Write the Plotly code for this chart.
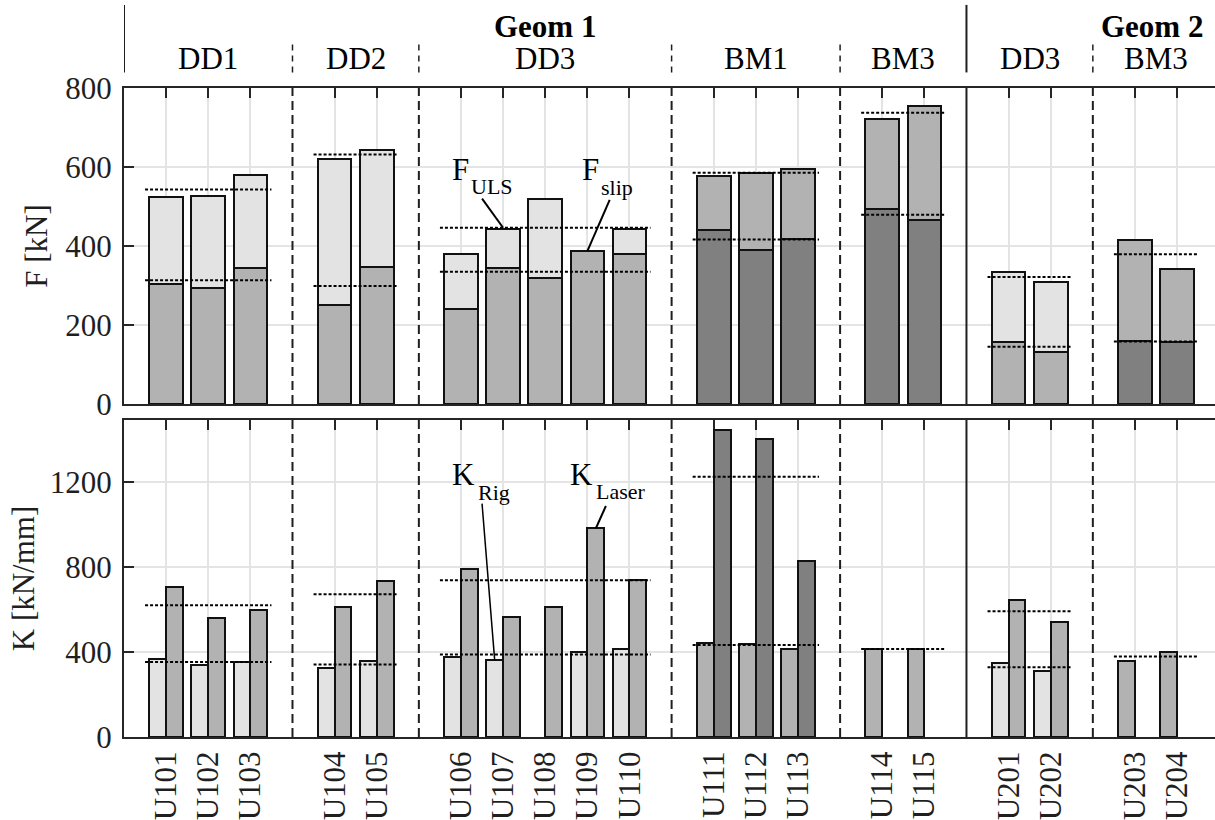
import plotly.graph_objects as go

# ---------------- data ----------------
group_names = ["DD1", "DD2", "DD3", "BM1", "BM3", "DD3", "BM3"]
group_geom = ["Geom 1", "Geom 1", "Geom 1", "Geom 1", "Geom 1", "Geom 2", "Geom 2"]
group_members = [
    ["U101", "U102", "U103"],
    ["U104", "U105"],
    ["U106", "U107", "U108", "U109", "U110"],
    ["U111", "U112", "U113"],
    ["U114", "U115"],
    ["U201", "U202"],
    ["U203", "U204"],
]
specimens = [s for g in group_members for s in g]

F_ULS = [525, 526, 579, 621, 642, 381, 442, 520, None, 442,
         576, 584, 596, 721, 754, 333, 310, 416, 342]
F_slip = [303, 293, 344, 250, 348, 241, 344, 320, 387, 381,
          441, 391, 418, 493, 465, 158, 132, 159, 157]
K_Rig = [368, 336, 352, 325, 357, 376, 360, None, 401, 412,
         443, 439, 415, 415, 412, 347, 308, 357, 401]
K_Laser = [705, 557, 596, 611, 731, 791, 563, 611, 980, 739,
           1444, 1400, 827, None, None, 643, 540, None, None]

F_ticks = [0, 200, 400, 600, 800]
K_ticks = [0, 400, 800, 1200]

# ---------------- styles ----------------
FONT = "Liberation Serif"
INK = "#1f1f1f"
C_LIGHT, C_MED, C_DARK = "#e3e3e3", "#b2b2b2", "#808080"
PAIR = {"DD": (C_LIGHT, C_MED), "BM": (C_MED, C_DARK)}
FS = 31

# positions: one empty slot between groups
pos, group_pos, seps = [], [], []
p = 1
for gi, mem in enumerate(group_members):
    gp = []
    for _ in mem:
        pos.append(p)
        gp.append(p)
        p += 1
    group_pos.append(gp)
    if gi < len(group_members) - 1:
        seps.append((p, group_geom[gi] != group_geom[gi + 1]))
        p += 1
XMAX = 25.9

spec_group = [gi for gi, mem in enumerate(group_members) for _ in mem]
col_lo = [PAIR[group_names[g][:2]][0] for g in spec_group]
col_hi = [PAIR[group_names[g][:2]][1] for g in spec_group]

fig = go.Figure()
bar_line = dict(color="#111111", width=2)

# top panel: overlaid bars (ultimate load behind, slip load in front)
fig.add_trace(go.Bar(x=pos, y=F_ULS, width=0.8, marker=dict(color=col_lo, line=bar_line),
                     xaxis="x", yaxis="y", showlegend=False, name="F_ULS"))
fig.add_trace(go.Bar(x=pos, y=F_slip, width=0.8, marker=dict(color=col_hi, line=bar_line),
                     xaxis="x", yaxis="y", showlegend=False, name="F_slip"))

# bottom panel: side by side
fig.add_trace(go.Bar(x=pos, y=K_Rig, width=0.4, offset=-0.4, marker=dict(color=col_lo, line=bar_line),
                     xaxis="x2", yaxis="y2", showlegend=False, name="K_Rig"))
fig.add_trace(go.Bar(x=pos, y=K_Laser, width=0.4, offset=0.0, marker=dict(color=col_hi, line=bar_line),
                     xaxis="x2", yaxis="y2", showlegend=False, name="K_Laser"))


def mean(vals):
    v = [x for x in vals if x is not None]
    return sum(v) / len(v) if v else None


dot = dict(color="#000000", width=2, dash="3px,2px")
for gi, gp in enumerate(group_pos):
    idx = [pos.index(q) for q in gp]
    x0, x1 = gp[0] - 0.5, gp[-1] + 0.5
    for series, xa, ya in ((F_ULS, "x", "y"), (F_slip, "x", "y"), (K_Rig, "x2", "y2"), (K_Laser, "x2", "y2")):
        m = mean([series[i] for i in idx])
        if m is None:
            continue
        fig.add_trace(go.Scatter(x=[x0, x1], y=[m, m], mode="lines", line=dot,
                                 xaxis=xa, yaxis=ya, showlegend=False, hoverinfo="skip"))

shapes = []
# separators in both panels
for sp, solid in seps:
    for xr, yr in (("x", "y domain"), ("x2", "y2 domain")):
        shapes.append(dict(type="line", xref=xr, yref=yr, x0=sp, x1=sp, y0=0, y1=1,
                           line=dict(color=INK, width=2, dash="solid" if solid else "9px,5px")))
    # header dividers
    shapes.append(dict(type="line", xref="x", yref="paper", x0=sp, x1=sp,
                       y0=1.024, y1=1.128 if solid else 1.074,
                       line=dict(color=INK, width=2 if solid else 1.5, dash="solid" if solid else "6px,5px")))
shapes.append(dict(type="line", xref="x", yref="paper", x0=0, x1=0, y0=1.024, y1=1.128,
                   line=dict(color=INK, width=2)))

# annotation leaders
i107, i109 = specimens.index("U107"), specimens.index("U109")
dd3 = [pos.index(q) for q in group_pos[2]]
shapes.append(dict(type="line", xref="x", yref="y", x0=8.5, y0=520,
                   x1=pos[i107], y1=mean([F_ULS[i] for i in dd3]), line=dict(color="#000", width=2)))
shapes.append(dict(type="line", xref="x", yref="y", x0=11.53, y0=517,
                   x1=pos[i109], y1=F_slip[i109], line=dict(color="#000", width=2)))
shapes.append(dict(type="line", xref="x2", yref="y2", x0=8.5, y0=1097,
                   x1=pos[i107] - 0.2, y1=K_Rig[i107], line=dict(color="#000", width=1.5)))
shapes.append(dict(type="line", xref="x2", yref="y2", x0=11.44, y0=1086,
                   x1=pos[i109] + 0.2, y1=K_Laser[i109], line=dict(color="#000", width=2)))

ann = []
def txt(x, y, t, size, xr="x", yr="y", bold=False):
    ann.append(dict(x=x, y=y, xref=xr, yref=yr, text=("<b>%s</b>" % t) if bold else t, showarrow=False,
                    font=dict(family=FONT, size=size, color="#000"), xanchor="center", yanchor="middle"))

txt(7.98, 594, "F", FS); txt(8.73, 550, "ULS", 22)
txt(11.08, 594, "F", FS); txt(11.71, 548, "slip", 22)
txt(8.07, 1235, "K", FS, "x2", "y2"); txt(8.79, 1149, "Rig", 22, "x2", "y2")
txt(10.85, 1235, "K", FS, "x2", "y2"); txt(11.8, 1153, "Laser", 22, "x2", "y2")

# header
for gi, gp in enumerate(group_pos):
    txt((gp[0] + gp[-1]) / 2, 1.046, group_names[gi], FS, "x", "paper")
txt(10, 1.094, "Geom 1", FS, "x", "paper", bold=True)
txt(24.4, 1.094, "Geom 2", FS, "x", "paper", bold=True)

axis_common = dict(showline=True, linecolor="#262626", linewidth=2, ticks="inside", ticklen=10,
                   tickcolor="#262626", tickwidth=2, showgrid=True, gridcolor="#e4e4e4", gridwidth=1.5,
                   zeroline=False, layer="below traces",
                   tickfont=dict(family=FONT, size=FS, color=INK))

fig.update_layout(
    width=1215, height=820, barmode="overlay", bargap=0,
    margin=dict(l=123.5, r=0, t=88, b=83),
    paper_bgcolor="white", plot_bgcolor="white",
    font=dict(family=FONT, size=FS, color=INK),
    xaxis=dict(axis_common, domain=[0, 1], range=[0, XMAX], anchor="y", tickvals=pos,
               showticklabels=False, mirror="ticks"),
    yaxis=dict(axis_common, domain=[0.5131, 1], range=[0, 800], tickvals=F_ticks, anchor="x",
               ticklabelstandoff=4,
               title=dict(text="F [kN]", font=dict(family=FONT, size=FS, color=INK), standoff=8)),
    xaxis2=dict(axis_common, domain=[0, 1], range=[0, XMAX], anchor="y2", tickvals=pos,
                ticktext=specimens, tickangle=-90, mirror="ticks"),
    yaxis2=dict(axis_common, domain=[0, 0.4884], range=[0, 1490], tickvals=K_ticks, anchor="x2",
                ticklabelstandoff=4,
                title=dict(text="K [kN/mm]", font=dict(family=FONT, size=FS, color=INK), standoff=6)),
    shapes=shapes, annotations=ann,
)

fig.write_html("out.html")
